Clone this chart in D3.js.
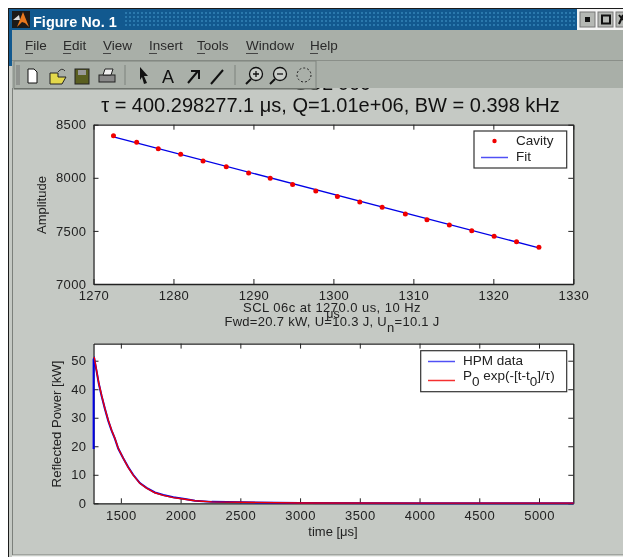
<!DOCTYPE html>
<html><head><meta charset="utf-8">
<script src="https://cdn.jsdelivr.net/npm/d3@7"></script>
<style>
html,body{margin:0;padding:0;background:#fff;overflow:hidden}
svg{display:block;filter:blur(0.35px)}
text{font-family:"Liberation Sans",Arial,sans-serif;fill:#222}
.tick text{font-size:13px;fill:#222}
</style></head><body><svg id="c" width="623" height="557"></svg>
<script>
// ---- data ----
const menuItems = ["File","Edit","View","Insert","Tools","Window","Help"];
const menuX = [25,63,103,149,197,246,310];
const cavityT = [1272.5,1275.4,1278.1,1280.9,1283.7,1286.6,1289.4,1292.1,1294.9,1297.8,1300.5,1303.3,1306.1,1309.0,1311.7,1314.5,1317.3,1320.1,1322.9,1325.7];
const cavityA = [8396,8334,8274,8221,8158,8105,8045,7995,7938,7876,7825,7772,7722,7659,7606,7555,7502,7449,7399,7345];
const fitT = [1272.5,1325.7];
const fitA = [8385,7340];
const hpmT = [1272,1272,1277,1296,1316,1338,1366,1394,1422,1450,1478,1520,1561,1603,1659,1715,1785,1855,1939,2036,2120,2260,3000,4000,5290];
const hpmP = [19,50.5,50.8,46.5,41.8,37.8,33.2,29,25.6,22.7,19.2,15.8,12.7,10,7.1,5.4,3.8,2.9,2.1,1.5,0.9,0.5,0.1,0.05,0.05];
const expT = [1277,1296,1316,1338,1366,1394,1422,1450,1478,1520,1561,1603,1659,1715,1785,1855,1939,2036,2120,2260,3000,4000,5290];
const expP = [51.3,46.7,42,38,33.3,29.2,25.7,22.8,19.3,15.8,12.6,9.9,7,5.3,3.7,2.8,2,1.4,0.9,0.5,0.1,0.05,0.05];
const topXTicks = [1270,1280,1290,1300,1310,1320,1330];
const topYTicks = [7000,7500,8000,8500];
const botXTicks = [1500,2000,2500,3000,3500,4000,4500,5000];
const botYTicks = [0,10,20,30,40,50];

const svg = d3.select("#c");
const MENU="#a9afa8", FIG="#c5c9c4", BLUE="#0000e6", RED="#f00000";

// ---- window chrome ----
svg.append("rect").attr("x",8).attr("y",8).attr("width",615).attr("height",549).attr("fill","#1b1b1b");
svg.append("rect").attr("x",9).attr("y",9).attr("width",614).attr("height",21).attr("fill","#12598f");
svg.append("rect").attr("x",9).attr("y",30).attr("width",3).attr("height",36).attr("fill","#12598f");
svg.append("rect").attr("x",12).attr("y",30).attr("width",611).attr("height",526).attr("fill",FIG);
svg.append("rect").attr("x",9).attr("y",66).attr("width",3).attr("height",491).attr("fill",FIG);
svg.append("rect").attr("x",12).attr("y",66).attr("width",1).attr("height",489).attr("fill","#7c807b");
svg.append("rect").attr("x",12).attr("y",554.5).attr("width",611).attr("height",1).attr("fill","#7c807b");
svg.append("rect").attr("x",12).attr("y",555.5).attr("width",611).attr("height",1.5).attr("fill","#eef0ee");

// figure contents hidden behind the toolbar: only its lowest pixels show
svg.append("text").attr("x",332).attr("y",90).attr("text-anchor","middle")
  .attr("font-size",20).style("fill","#111").text("SCL 06c");

svg.append("rect").attr("x",12).attr("y",30).attr("width",611).attr("height",58).attr("fill",MENU);
svg.append("rect").attr("x",12).attr("y",60).attr("width",611).attr("height",1).attr("fill","#8a8f89");
svg.append("rect").attr("x",14).attr("y",61).attr("width",302).attr("height",28).attr("fill","#aab0a9").attr("stroke","#7f847e");
svg.append("rect").attr("x",14).attr("y",88).attr("width",302).attr("height",1.2).attr("fill","#6e736d");

// title bar details
const dots=svg.append("g").attr("fill","#2b79ad");
d3.range(125,578,4).forEach(x=>d3.range(12,28,4).forEach(y=>dots.append("rect").attr("x",x).attr("y",y).attr("width",2).attr("height",2)));
svg.append("text").attr("x",33).attr("y",27).attr("font-size",14.5).attr("font-weight","bold").style("fill","#fff").text("Figure No. 1");
const ic=svg.append("g");
ic.append("rect").attr("x",12).attr("y",11).attr("width",18).attr("height",17).attr("fill","#1c1a18");
ic.append("path").attr("d","M17 27L23 12L29 27L25 23L22 22Z").attr("fill","#e8781e");
ic.append("path").attr("d","M13 20L19 15L20 20Z").attr("fill","#ddd");
svg.append("rect").attr("x",577).attr("y",9).attr("width",46).attr("height",21).attr("fill","#f4f4f4");
[580,598,616].forEach((x,i)=>{
  svg.append("rect").attr("x",x).attr("y",12).attr("width",15).attr("height",15).attr("fill","#b5b8b4").attr("stroke","#777");
});
svg.append("rect").attr("x",585).attr("y",17).attr("width",5).attr("height",5).attr("fill","#111");
svg.append("rect").attr("x",602).attr("y",15.5).attr("width",8).attr("height",8).attr("fill","none").attr("stroke","#111").attr("stroke-width",2);
svg.append("path").attr("d","M619 15L623 20M623 15L619 24").attr("stroke","#111").attr("stroke-width",2);

// menu
menuItems.forEach((m,i)=>{
  svg.append("text").attr("x",menuX[i]).attr("y",50).attr("font-size",13.5).style("fill","#2a2a2a").text(m);
  svg.append("rect").attr("x",menuX[i]).attr("y",53).attr("width",m[0]==="W"?12:8).attr("height",1).attr("fill","#444");
});

// toolbar icons
const tb=svg.append("g");
tb.append("path").attr("d","M17 65V85M19 65V85").attr("stroke","#777").attr("stroke-width",1);
tb.append("path").attr("d","M28 69H34L37 72V83H28Z").attr("fill","#fff").attr("stroke","#111");
tb.append("path").attr("d","M50 73H58V77H66L62 84H50Z").attr("fill","#e3d84b").attr("stroke","#222");
tb.append("path").attr("d","M58 72Q62 67 65 71").attr("fill","none").attr("stroke","#333");
tb.append("rect").attr("x",75).attr("y",69).attr("width",14).attr("height",15).attr("fill","#5a5f20").attr("stroke","#222");
tb.append("rect").attr("x",78).attr("y",70).attr("width",8).attr("height",5).attr("fill","#999");
tb.append("rect").attr("x",99).attr("y",75).attr("width",16).attr("height",7).attr("fill","#888").attr("stroke","#222");
tb.append("path").attr("d","M103 75L105 69H113L111 75Z").attr("fill","#eee").attr("stroke","#222");
tb.append("path").attr("d","M125 65V85").attr("stroke","#7d827c");
tb.append("path").attr("d","M140 67L148 76L144 76L147 83L144 84L142 77L140 80Z").attr("fill","#111");
tb.append("text").attr("x",168).attr("y",83).attr("text-anchor","middle").attr("font-size",18).style("fill","#111").text("A");
tb.append("path").attr("d","M188 83L198 71M191 71H199V79").attr("fill","none").attr("stroke","#111").attr("stroke-width",2);
tb.append("path").attr("d","M211 84L223 70").attr("stroke","#111").attr("stroke-width",2);
tb.append("path").attr("d","M235 65V85").attr("stroke","#7d827c");
[[256,74,true],[280,74,false]].forEach(([x,y,p])=>{
  tb.append("circle").attr("cx",x).attr("cy",y).attr("r",6.5).attr("fill","#c9cdc8").attr("stroke","#111").attr("stroke-width",1.3);
  tb.append("path").attr("d",`M${x-5} ${y+5}L${x-10} ${y+10}`).attr("stroke","#111").attr("stroke-width",2);
  tb.append("path").attr("d",`M${x-3} ${y}H${x+3}`+(p?`M${x} ${y-3}V${y+3}`:"")).attr("stroke","#111").attr("stroke-width",1.3);
});
tb.append("circle").attr("cx",304).attr("cy",75).attr("r",7).attr("fill","none").attr("stroke","#222").attr("stroke-dasharray","2 2");

// ---- axes ----
const L=93.5,R=573.3;
const xT=d3.scaleLinear().domain([1270,1330]).range([L,R]);
const yT=d3.scaleLinear().domain([7000,8500]).range([284,124.7]);
const xB=d3.scaleLinear().domain([1271,5287]).range([L,R]);
const yB=d3.scaleLinear().domain([0,56]).range([503.3,343.6]);

function frame(x,y,xt,yt){
  const [y0,y1]=y.range();
  const g=svg.append("g");
  g.append("rect").attr("x",L).attr("y",y1).attr("width",R-L).attr("height",y0-y1).attr("fill","#fff");
  const style=s=>{s.selectAll("path").attr("stroke","#222").attr("stroke-width",1.3);s.selectAll("line").attr("stroke","#222");};
  g.append("g").attr("transform",`translate(0,${y0})`).call(d3.axisBottom(x).tickValues(xt).tickSize(-5).tickSizeOuter(0).tickPadding(7).tickFormat(d3.format("d"))).call(style);
  g.append("g").attr("transform",`translate(0,${y1})`).call(d3.axisTop(x).tickValues(xt).tickSize(-5).tickSizeOuter(0).tickFormat("")).call(style);
  g.append("g").attr("transform",`translate(${L},0)`).call(d3.axisLeft(y).tickValues(yt).tickSize(-5).tickSizeOuter(0).tickPadding(7).tickFormat(d3.format("d"))).call(style);
  g.append("g").attr("transform",`translate(${R},0)`).call(d3.axisRight(y).tickValues(yt).tickSize(-5).tickSizeOuter(0).tickFormat("")).call(style);
  g.selectAll("text").attr("fill","#222").style("letter-spacing","0.4px");
}
frame(xT,yT,topXTicks,topYTicks);
frame(xB,yB,botXTicks,botYTicks);

// ---- marks ----
const ln=(x,y)=>d3.line().x(d=>x(d[0])).y(d=>y(d[1]));
svg.append("path").datum(d3.zip(fitT,fitA)).attr("d",ln(xT,yT)).attr("fill","none").attr("stroke",BLUE).attr("stroke-width",1.4);
svg.append("g").selectAll("circle").data(d3.zip(cavityT,cavityA)).join("circle")
  .attr("cx",d=>xT(d[0])).attr("cy",d=>yT(d[1])).attr("r",2.5).attr("fill",RED);
svg.append("path").datum(d3.zip(hpmT,hpmP)).attr("d",ln(xB,yB)).attr("fill","none").attr("stroke",BLUE).attr("stroke-width",2);
svg.append("path").datum(d3.zip(expT,expP)).attr("d",ln(xB,yB)).attr("fill","none").attr("stroke",RED).attr("stroke-width",1.4);

// ---- titles, labels ----
const tt=svg.append("text").attr("x",330.5).attr("y",111.5).attr("text-anchor","middle").attr("font-size",20).style("fill","#111");
tt.append("tspan").text("τ");
tt.append("tspan").text(" = 400.298277.1 ");
tt.append("tspan").text("μ");
tt.append("tspan").text("s, Q=1.01e+06, BW = 0.398 kHz");

svg.append("text").attr("transform","translate(46,205) rotate(-90)").attr("text-anchor","middle").attr("font-size",13).text("Amplitude");
svg.append("text").attr("transform","translate(61,424) rotate(-90)").attr("text-anchor","middle").attr("font-size",13.2).text("Reflected Power [kW]");
svg.append("text").attr("x",333).attr("y",318).attr("text-anchor","middle").attr("font-size",12.5).text("μs");
svg.append("text").attr("x",332).attr("y",312).attr("text-anchor","middle").attr("font-size",13).style("letter-spacing","0.45px").text("SCL 06c at 1270.0 us, 10 Hz");
const sub=svg.append("text").attr("x",332).attr("y",326).attr("text-anchor","middle").attr("font-size",13).style("letter-spacing","0.3px");
sub.append("tspan").text("Fwd=20.7 kW, U=10.3 J, U");
sub.append("tspan").attr("dy",6).text("n");
sub.append("tspan").attr("dy",-6).text("=10.1 J");
svg.append("text").attr("x",333).attr("y",536).attr("text-anchor","middle").attr("font-size",13).text("time [μs]");

// ---- legends ----
const LEG_BLUE="#5050f5", LEG_RED="#f53030";
function box(x,y,w,h){svg.append("rect").attr("x",x).attr("y",y).attr("width",w).attr("height",h).attr("fill","#fff").attr("stroke","#333").attr("stroke-width",1.2);}
box(474,131,92.7,37);
svg.append("circle").attr("cx",494.5).attr("cy",141).attr("r",2.2).attr("fill",RED);
svg.append("text").attr("x",516).attr("y",145).attr("font-size",13.5).text("Cavity");
svg.append("path").attr("d","M481 157.5H508").attr("stroke",LEG_BLUE).attr("stroke-width",1.5);
svg.append("text").attr("x",516).attr("y",161).attr("font-size",13.5).text("Fit");
box(420.7,350.7,146,41);
svg.append("path").attr("d","M428 361.5H455").attr("stroke",LEG_BLUE).attr("stroke-width",1.5);
svg.append("text").attr("x",463).attr("y",365).attr("font-size",13.5).text("HPM data");
svg.append("path").attr("d","M428 380.5H455").attr("stroke",LEG_RED).attr("stroke-width",1.5);
const lg=svg.append("text").attr("x",463).attr("y",380).attr("font-size",13.5);
lg.append("tspan").text("P");
lg.append("tspan").attr("dy",6).text("0");
lg.append("tspan").attr("dy",-6).text(" exp(-[t-t");
lg.append("tspan").attr("dy",6).text("0");
lg.append("tspan").attr("dy",-6).text("]/τ)");
</script></body></html>
